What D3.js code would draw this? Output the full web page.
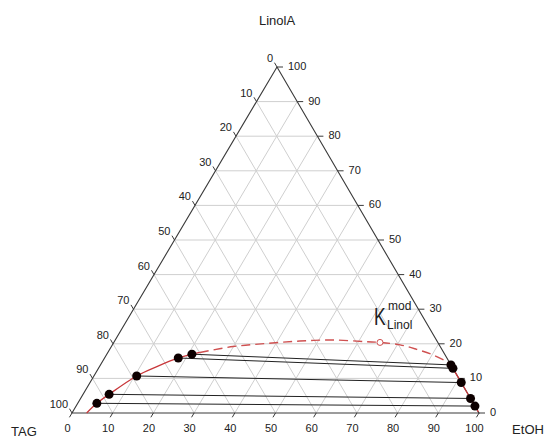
<!DOCTYPE html>
<html><head><meta charset="utf-8">
<script src="https://cdn.jsdelivr.net/npm/d3@7"></script>
<style>body{margin:0;background:#fff}svg{display:block;font-family:"Liberation Sans",Arial,sans-serif}</style>
</head><body><svg id="c" width="546" height="438"></svg>
<script>
// ---- data (compositions in %, TAG = 100 - EtOH - LinolA) ----
const ticks = [0,10,20,30,40,50,60,70,80,90,100];
const gridValues = [10,20,30,40,50,60,70,80,90];
const axisTitles = ["LinolA","TAG","EtOH"];
// TAG-rich phase (left) and EtOH-rich phase (right) of each tie line
const leftEtOH  = [4.7, 6.4, 10.5, 18.1, 20.9];
const leftLinol = [2.8, 5.4, 10.7, 15.9, 17.0];
const rightEtOH  = [98.0, 95.8, 91.2, 87.1, 86.1];
const rightLinol = [2.0, 4.2, 8.8, 12.9, 13.9];
// binodal curve: solid (measured) and dashed (extrapolated) parts, [EtOH, LinolA]
const binodalLeft = [[3.6,0],[4.7,2.8],[6.4,5.4],[10.5,10.7],[14.1,13.4],[18.1,15.9],[20.9,17.0],[22.6,17.5]];
const binodalDashed = [[22.6,17.5],[29.9,19.2],[37.7,20.1],[45.5,20.8],[53.5,21.1],[62.0,20.6],[65.4,20.4],[70.7,19.7],[75.4,18.4],[80.2,16.8],[84.6,14.8],[86.1,13.9]];
const binodalRight = [[86.1,13.9],[87.1,12.9],[91.2,8.8],[95.8,4.2],[98.0,2.0],[99.7,0.3]];
const plaitPoint = [65.4, 20.4];

// ---- geometry ----
const svg = d3.select("#c");
const x0 = 72, x1 = 479, yBase = 413, yTop = 67, xApex = 277;
const xE = d3.scaleLinear().domain([0,100]).range([x0, x1]);        // EtOH along base
const xL = d3.scaleLinear().domain([0,100]).range([0, xApex - x0]);  // shear from LinolA
const yL = d3.scaleLinear().domain([0,100]).range([yBase, yTop]);    // LinolA height
const P = (e, l) => [xE(e) + xL(l), yL(l)];

const gridColor = "#cfcfcf", edgeColor = "#3a3a3a", red = "#c8373a";
const g = svg.append("g");

// grid
gridValues.forEach(v => {
  const lines = [
    [P(0,v), P(100-v,v)],          // LinolA const
    [P(v,0), P(v,100-v)],          // EtOH const
    [P(0,100-v), P(100-v,0)]       // TAG const
  ];
  lines.forEach(l => g.append("line")
    .attr("x1",l[0][0]).attr("y1",l[0][1]).attr("x2",l[1][0]).attr("y2",l[1][1])
    .attr("stroke",gridColor).attr("stroke-width",1));
});

// edges
g.append("path").attr("d", d3.line()([P(0,100),P(0,0),P(100,0),P(0,100)]))
  .attr("fill","none").attr("stroke",edgeColor).attr("stroke-width",1.1);

// ticks + labels
const tl = 5;
const dirB = [-(xApex-x0), (yBase-yTop)]; const nB = Math.hypot(...dirB);
const dirLft = [-(x1-xApex), -(yBase-yTop)]; const nL = Math.hypot(...dirLft);
ticks.forEach(v => {
  // bottom: EtOH
  let p = P(v,0);
  g.append("line").attr("x1",p[0]).attr("y1",p[1])
    .attr("x2",p[0]+tl*dirB[0]/nB).attr("y2",p[1]+tl*dirB[1]/nB).attr("stroke",edgeColor);
  g.append("text").attr("x",p[0]-4.5).attr("y",p[1]+16).attr("text-anchor","middle")
    .attr("dominant-baseline","middle").attr("font-size",11).attr("fill","#222").text(v);
  // left: TAG
  p = P(0,100-v);
  g.append("line").attr("x1",p[0]).attr("y1",p[1])
    .attr("x2",p[0]+tl*dirLft[0]/nL).attr("y2",p[1]+tl*dirLft[1]/nL).attr("stroke",edgeColor);
  g.append("text").attr("x",p[0]-4).attr("y",p[1]-8).attr("text-anchor","end")
    .attr("dominant-baseline","middle").attr("font-size",11).attr("fill","#222").text(v);
  // right: LinolA
  p = P(100-v,v);
  g.append("line").attr("x1",p[0]).attr("y1",p[1]).attr("x2",p[0]+6).attr("y2",p[1]).attr("stroke",edgeColor);
  g.append("text").attr("x",p[0]+11).attr("y",p[1]).attr("text-anchor","start")
    .attr("dominant-baseline","middle").attr("font-size",11).attr("fill","#222").text(v);
});

// axis titles
g.append("text").attr("x",277).attr("y",22).attr("text-anchor","middle").attr("dominant-baseline","middle")
  .attr("font-size",13).attr("fill","#222").text(axisTitles[0]);
g.append("text").attr("x",24).attr("y",433).attr("text-anchor","middle").attr("dominant-baseline","middle")
  .attr("font-size",13).attr("fill","#222").text(axisTitles[1]);
g.append("text").attr("x",528).attr("y",431).attr("text-anchor","middle").attr("dominant-baseline","middle")
  .attr("font-size",13).attr("fill","#222").text(axisTitles[2]);

// binodal curve
const curve = d3.line().x(d => P(d[0],d[1])[0]).y(d => P(d[0],d[1])[1]).curve(d3.curveCatmullRom);
g.append("path").attr("d",curve(binodalLeft)).attr("fill","none").attr("stroke",red).attr("stroke-width",1.3);
g.append("path").attr("d",curve(binodalRight)).attr("fill","none").attr("stroke",red).attr("stroke-width",1.3);
g.append("path").attr("d",curve(binodalDashed)).attr("fill","none").attr("stroke","#cf5050")
  .attr("stroke-width",1.4).attr("stroke-dasharray","9,5");

// tie lines
leftEtOH.forEach((e,i) => {
  const a = P(e,leftLinol[i]), b = P(rightEtOH[i],rightLinol[i]);
  g.append("line").attr("x1",a[0]).attr("y1",a[1]).attr("x2",b[0]).attr("y2",b[1])
    .attr("stroke","#222").attr("stroke-width",1);
});
// points
leftEtOH.forEach((e,i) => {
  [P(e,leftLinol[i]), P(rightEtOH[i],rightLinol[i])].forEach(p =>
    g.append("circle").attr("cx",p[0]).attr("cy",p[1]).attr("r",4.5).attr("fill","#0d0000"));
});
// plait point
const pp = P(plaitPoint[0], plaitPoint[1]);
g.append("circle").attr("cx",pp[0]).attr("cy",pp[1]).attr("r",3).attr("fill","#fff").attr("stroke","#cf5050").attr("stroke-width",1);

// K label
g.append("text").attr("transform","translate(374,325) scale(0.76,1)")
  .attr("font-size",23).attr("fill","#222").text("K");
g.append("text").attr("x",388).attr("y",310).attr("font-size",12).attr("fill","#222").text("mod");
g.append("text").attr("x",387).attr("y",329).attr("font-size",12).attr("fill","#222").text("Linol");
</script></body></html>
